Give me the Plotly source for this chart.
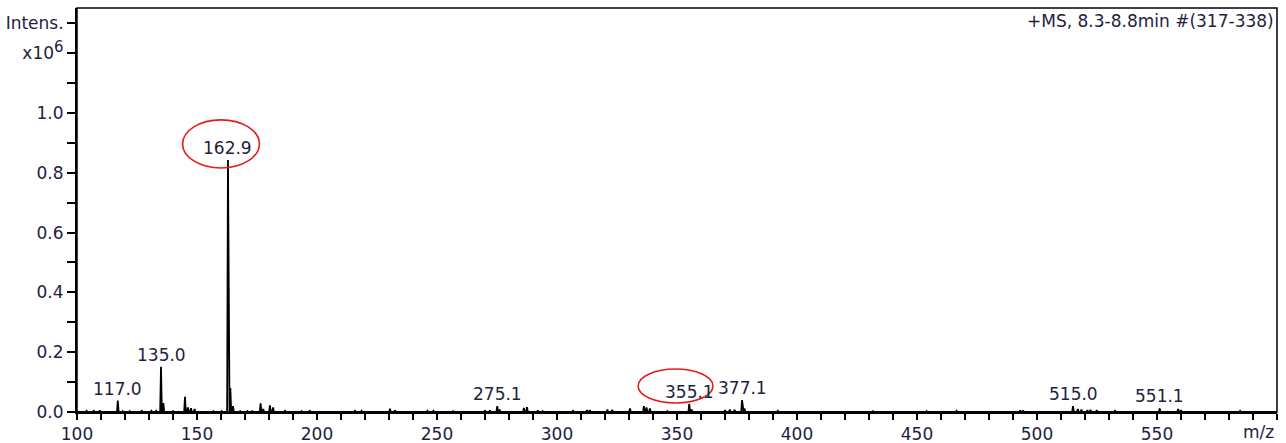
import numpy as np
import plotly.graph_objects as go

# Labelled peaks: m/z and intensity (x10^6)
label_mz = [117.0, 135.0, 162.9, 275.1, 355.1, 377.1, 515.0, 551.1]
label_int = [0.038, 0.151, 0.843, 0.020, 0.027, 0.040, 0.020, 0.012]

# Unlabelled peaks and isotopes
minor_mz = [104.0, 107.0, 109.5, 119.0, 122.0, 127.0, 131.0, 133.0, 136.0,
            140.0, 145.0, 146.2, 147.5, 149.0, 156.8, 160.3, 163.9, 165.0,
            168.0, 171.0, 173.0, 176.5, 177.6, 180.4, 181.7, 186.7, 193.6,
            197.0, 215.8, 218.6, 230.4, 232.5, 246.0, 248.5, 256.7, 270.0,
            272.0, 276.1, 286.2, 287.5, 292.0, 294.0, 306.7, 312.5, 313.7,
            321.0, 323.0, 330.4, 336.2, 337.3, 338.7, 346.0, 356.1, 370.0,
            372.0, 374.0, 378.1, 392.0, 431.7, 454.0, 466.5, 493.0, 494.2,
            517.0, 518.5, 521.0, 522.3, 524.9, 532.5, 558.8, 560.0, 584.6]
minor_int = [0.004, 0.004, 0.005, 0.003, 0.003, 0.004, 0.004, 0.004, 0.030,
             0.003, 0.051, 0.015, 0.013, 0.010, 0.003, 0.003, 0.080, 0.020,
             0.003, 0.003, 0.003, 0.029, 0.010, 0.022, 0.015, 0.004, 0.003,
             0.004, 0.004, 0.004, 0.011, 0.005, 0.004, 0.004, 0.003, 0.005,
             0.005, 0.008, 0.014, 0.016, 0.005, 0.003, 0.004, 0.006, 0.006,
             0.008, 0.007, 0.012, 0.020, 0.015, 0.012, 0.003, 0.008, 0.006,
             0.008, 0.007, 0.012, 0.004, 0.003, 0.003, 0.004, 0.005, 0.005,
             0.010, 0.008, 0.006, 0.007, 0.006, 0.004, 0.010, 0.006, 0.004]

# Axis ticks
x_tick_vals = list(range(100, 601, 10))
x_tick_labels = ["100", "150", "200", "250", "300", "350", "400", "450", "500", "550"]
y_tick_vals = [round(0.1 * i, 1) for i in range(14)]
y_tick_labels = ["0.0", "", "0.2", "", "0.4", "", "0.6", "", "0.8", "", "1.0", "",
                 "x10<sup><span style=\"font-size:15px\">6</span></sup>", "Intens."]

TEXT = "#1e2240"
FONT = "DejaVu Sans"
FS = 17

# Build a narrow profile for each centroid so the spectrum draws as thin peaks
all_mz = np.array(label_mz + minor_mz)
all_int = np.array(label_int + minor_int)
order = np.argsort(all_mz)
all_mz, all_int = all_mz[order], all_int[order]
half_w = 0.35
px = np.column_stack([all_mz - half_w, all_mz, all_mz + half_w]).ravel()
py = np.column_stack([np.zeros_like(all_int), all_int, np.zeros_like(all_int)]).ravel()
px = np.concatenate([[100.0], px, [600.0]])
py = np.concatenate([[0.0], py, [0.0]])

fig = go.Figure()
fig.add_trace(go.Scatter(x=px, y=py, mode="lines",
                         line=dict(color="black", width=1.8),
                         hoverinfo="skip", showlegend=False))

x_text = [str(v) if (v % 50 == 0 and str(v) in x_tick_labels) else "" for v in x_tick_vals]

fig.update_xaxes(range=[100, 600], tickmode="array", tickvals=x_tick_vals,
                 ticktext=x_text, ticks="outside", ticklen=6, tickwidth=1.5,
                 tickcolor="black", showline=True, linecolor="black", linewidth=2,
                 showgrid=False, zeroline=False, automargin=False,
                 tickfont=dict(family=FONT, size=FS, color=TEXT))
fig.update_yaxes(range=[0, 1.351], tickmode="array", tickvals=y_tick_vals,
                 ticktext=y_tick_labels, ticks="outside", ticklen=8, tickwidth=1.5,
                 tickcolor="black", showline=True, linecolor="black", linewidth=2,
                 showgrid=False, zeroline=False, automargin=False,
                 tickfont=dict(family=FONT, size=FS, color=TEXT))

annotations = []
for m, v in zip(label_mz, label_int):
    annotations.append(dict(x=m, y=v, xref="x", yref="y", text=f"{m:.1f}",
                            showarrow=False, xanchor="center", yanchor="bottom",
                            yshift=0, font=dict(family=FONT, size=FS, color=TEXT)))
annotations.append(dict(x=1, y=1, xref="paper", yref="paper",
                        text="+MS, 8.3-8.8min #(317-338)", showarrow=False,
                        xanchor="right", yanchor="top", xshift=-1, yshift=-1,
                        font=dict(family=FONT, size=FS, color=TEXT)))
annotations.append(dict(x=1, y=0, xref="paper", yref="paper", text="m/z",
                        showarrow=False, xanchor="right", yanchor="top",
                        xshift=-1, yshift=-8,
                        font=dict(family=FONT, size=FS, color=TEXT)))

shapes = [
    dict(type="rect", xref="paper", yref="paper", x0=0, x1=1, y0=0, y1=1,
         line=dict(color="black", width=1.5)),
    dict(type="circle", xref="x", yref="y", x0=144.0, x1=176.0, y0=0.816, y1=0.977,
         line=dict(color="#e41e1e", width=1.6)),
    dict(type="circle", xref="x", yref="y", x0=333.8, x1=365.0, y0=0.030, y1=0.144,
         line=dict(color="#e41e1e", width=1.6)),
]

fig.update_layout(width=1286, height=443,
                  margin=dict(l=77, r=9, t=8, b=31),
                  paper_bgcolor="white", plot_bgcolor="white",
                  annotations=annotations, shapes=shapes,
                  font=dict(family=FONT, size=FS, color=TEXT))

fig.write_html("out.html")
